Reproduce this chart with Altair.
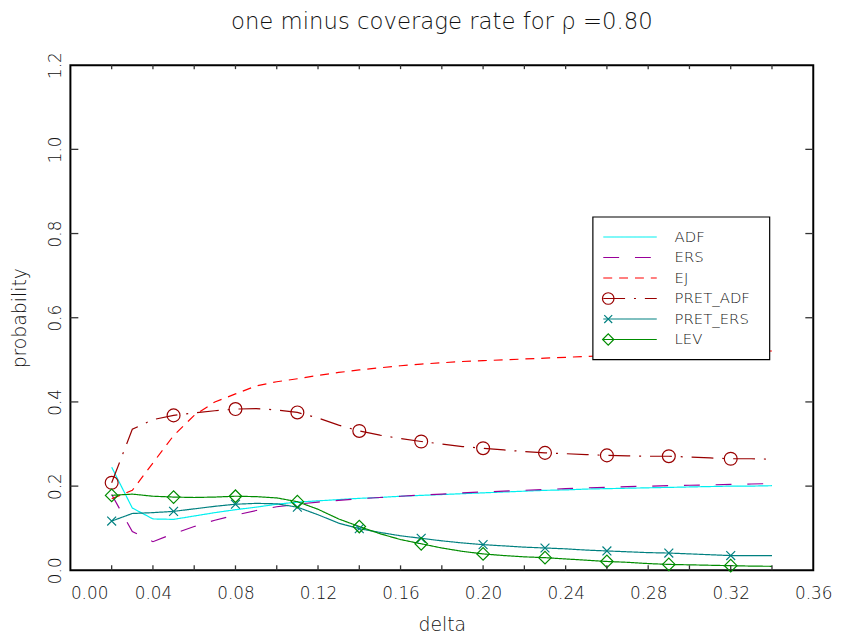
import altair as alt
import pandas as pd

# ---------------- data ----------------
delta = [0.02, 0.03, 0.04, 0.05, 0.06, 0.07, 0.08, 0.09, 0.10, 0.11, 0.12,
         0.13, 0.14, 0.15, 0.16, 0.17, 0.18, 0.19, 0.20, 0.21, 0.22, 0.23,
         0.24, 0.25, 0.26, 0.27, 0.28, 0.29, 0.30, 0.31, 0.32, 0.33, 0.34]

adf = [0.245, 0.148, 0.122, 0.121, 0.129, 0.137, 0.144, 0.150, 0.157, 0.162, 0.165,
       0.168, 0.171, 0.173, 0.176, 0.178, 0.180, 0.182, 0.184, 0.186, 0.188, 0.190,
       0.191, 0.193, 0.194, 0.195, 0.196, 0.197, 0.198, 0.199, 0.200, 0.200, 0.201]

ers = [0.180, 0.092, 0.068, 0.087, 0.104, 0.119, 0.131, 0.142, 0.151, 0.157, 0.162,
       0.166, 0.170, 0.173, 0.176, 0.179, 0.181, 0.184, 0.186, 0.188, 0.190, 0.192,
       0.194, 0.196, 0.197, 0.199, 0.200, 0.201, 0.202, 0.203, 0.204, 0.205, 0.206]

ej = [0.170, 0.190, 0.255, 0.320, 0.368, 0.400, 0.419, 0.438, 0.448, 0.455, 0.463,
      0.470, 0.476, 0.481, 0.486, 0.490, 0.493, 0.496, 0.498, 0.500, 0.502, 0.504,
      0.506, 0.508, 0.510, 0.512, 0.514, 0.515, 0.516, 0.517, 0.518, 0.520, 0.521]

pret_adf = [0.208, 0.335, 0.358, 0.368, 0.374, 0.379, 0.383, 0.384, 0.381, 0.375, 0.362,
            0.345, 0.331, 0.321, 0.313, 0.306, 0.300, 0.294, 0.290, 0.286, 0.282, 0.279,
            0.277, 0.275, 0.273, 0.272, 0.271, 0.271, 0.269, 0.267, 0.265, 0.265, 0.264]

pret_ers = [0.117, 0.135, 0.137, 0.140, 0.146, 0.152, 0.157, 0.159, 0.158, 0.150, 0.132,
            0.112, 0.099, 0.090, 0.082, 0.076, 0.070, 0.065, 0.061, 0.058, 0.055, 0.053,
            0.051, 0.048, 0.046, 0.044, 0.042, 0.041, 0.039, 0.037, 0.035, 0.035, 0.035]

lev = [0.178, 0.181, 0.176, 0.174, 0.173, 0.174, 0.176, 0.175, 0.172, 0.163, 0.145,
       0.122, 0.104, 0.087, 0.073, 0.063, 0.053, 0.045, 0.039, 0.035, 0.032, 0.030,
       0.027, 0.024, 0.021, 0.019, 0.016, 0.014, 0.013, 0.012, 0.011, 0.010, 0.0095]

marker_delta = [0.02, 0.05, 0.08, 0.11, 0.14, 0.17, 0.20, 0.23, 0.26, 0.29, 0.32]

series_names = ["ADF", "ERS", "EJ", "PRET_ADF", "PRET_ERS", "LEV"]
series_values = [adf, ers, ej, pret_adf, pret_ers, lev]
series_colors = ["#00F0F0", "#990099", "#FF0000", "#990000", "#008080", "#008C00"]
series_dashes = [[1, 0], [16, 16], [9, 7], [22, 9, 2, 9], [1, 0], [1, 0]]

marker_series = ["PRET_ADF", "PRET_ERS", "LEV"]
marker_shapes = ["circle", "M-1,-1L1,1M-1,1L1,-1", "diamond"]
marker_sizes = [169, 80, 160]

x_tick_labels = [0.00, 0.04, 0.08, 0.12, 0.16, 0.20, 0.24, 0.28, 0.32, 0.36]
x_minor_ticks = [0.02, 0.04, 0.06, 0.08, 0.10, 0.12, 0.14, 0.16, 0.18,
                 0.20, 0.22, 0.24, 0.26, 0.28, 0.30, 0.32, 0.34]
y_tick_labels = [0.0, 0.2, 0.4, 0.6, 0.8, 1.0, 1.2]
y_inner_ticks = [0.2, 0.4, 0.6, 0.8, 1.0]

TITLE = "one minus coverage rate for \u03c1 =0.80"
FONT = "DejaVu Sans"
FW = 200
W, H = 750, 510

# ---------------- tables ----------------
rows = []
for name, vals in zip(series_names, series_values):
    for d, v in zip(delta, vals):
        rows.append({"delta": d, "value": v, "series": name})
df = pd.DataFrame(rows)

mk = df[df["series"].isin(marker_series)
        & df["delta"].round(3).isin([round(m, 3) for m in marker_delta])]

xscale = alt.Scale(domain=[0, 0.36], nice=False, zero=False)
yscale = alt.Scale(domain=[0, 1.2], nice=False, zero=False)
cscale = alt.Scale(domain=series_names, range=series_colors)
dscale = alt.Scale(domain=series_names, range=series_dashes)

x_axis = alt.Axis(values=x_tick_labels, format=".2f", title="delta",
                  labelPadding=15, titlePadding=15,
                  labelAlign={"condition": {"test": "datum.value === 0", "value": "left"},
                              "value": "center"})
y_axis = alt.Axis(values=y_tick_labels, format=".1f", title="probability",
                  labelAngle=270, labelPadding=6, titlePadding=17)

X = alt.X("delta:Q", scale=xscale, axis=x_axis)
Y = alt.Y("value:Q", scale=yscale, axis=y_axis)

lines = alt.Chart(df).mark_line(strokeWidth=1.2).encode(
    x=X, y=Y,
    color=alt.Color("series:N", scale=cscale, legend=None),
    strokeDash=alt.StrokeDash("series:N", scale=dscale, legend=None),
)

layers = [lines]
for name, shp, sz in zip(marker_series, marker_shapes, marker_sizes):
    col = series_colors[series_names.index(name)]
    layers.append(
        alt.Chart(mk[mk["series"] == name]).mark_point(
            shape=shp, size=sz, filled=False, color=col, strokeWidth=1.2, opacity=1
        ).encode(x=X, y=Y)
    )

# inward ticks on all four sides
xt = pd.DataFrame({"delta": x_minor_ticks})
yt = pd.DataFrame({"value": y_inner_ticks})
tick_style = dict(color="#333333", strokeWidth=1.3)
layers.append(alt.Chart(xt).mark_rule(**tick_style).encode(
    x=X, y=alt.value(H), y2=alt.value(H - 5)))
layers.append(alt.Chart(xt).mark_rule(**tick_style).encode(
    x=X, y=alt.value(0), y2=alt.value(4)))
layers.append(alt.Chart(yt).mark_rule(**tick_style).encode(
    y=Y, x=alt.value(0), x2=alt.value(8)))
layers.append(alt.Chart(yt).mark_rule(**tick_style).encode(
    y=Y, x=alt.value(W), x2=alt.value(W - 8)))

# legend box
one = pd.DataFrame({"a": [0]})
layers.append(alt.Chart(one).mark_rect(fill="white", stroke="black", strokeWidth=1.2).encode(
    x=alt.value(527.5), x2=alt.value(706), y=alt.value(153.3), y2=alt.value(297.3)))

for i, name in enumerate(series_names):
    yy = 173.5 + i * 20.7
    col = series_colors[i]
    ent = pd.DataFrame({"name": [name]})
    layers.append(alt.Chart(ent).mark_rule(color=col, strokeWidth=1.2,
                                           strokeDash=series_dashes[i]).encode(
        x=alt.value(538), x2=alt.value(592), y=alt.value(yy)))
    if name in marker_series:
        k = marker_series.index(name)
        layers.append(alt.Chart(ent).mark_point(
            shape=marker_shapes[k], size=marker_sizes[k] * 0.8, filled=False,
            color=col, strokeWidth=1.2, opacity=1).encode(
            x=alt.value(543), y=alt.value(yy)))
    layers.append(alt.Chart(ent).mark_text(
        align="left", baseline="middle", font=FONT, fontWeight=FW, fontSize=15,
        color="#111111").encode(
        x=alt.value(610), y=alt.value(yy), text="name:N"))

chart = alt.layer(*layers).properties(
    width=W, height=H,
    title=alt.Title(TITLE),
    autosize=alt.AutoSizeParams(type="none"),
    padding={"left": 63, "top": 54.7, "right": 27, "bottom": 62.3},
).configure_view(
    stroke="black", strokeWidth=2
).configure_axis(
    domain=False, ticks=False, tickSize=0, grid=False,
    labelFont=FONT, labelFontSize=17, labelFontWeight=FW, labelColor="#111111",
    titleFont=FONT, titleFontSize=19, titleFontWeight=FW, titleColor="#111111",
).configure_title(
    font=FONT, fontSize=23, fontWeight=FW, color="#111111",
    anchor="middle", offset=18,
)

chart.save("out.html", embed_options={"renderer": "svg", "actions": False})
